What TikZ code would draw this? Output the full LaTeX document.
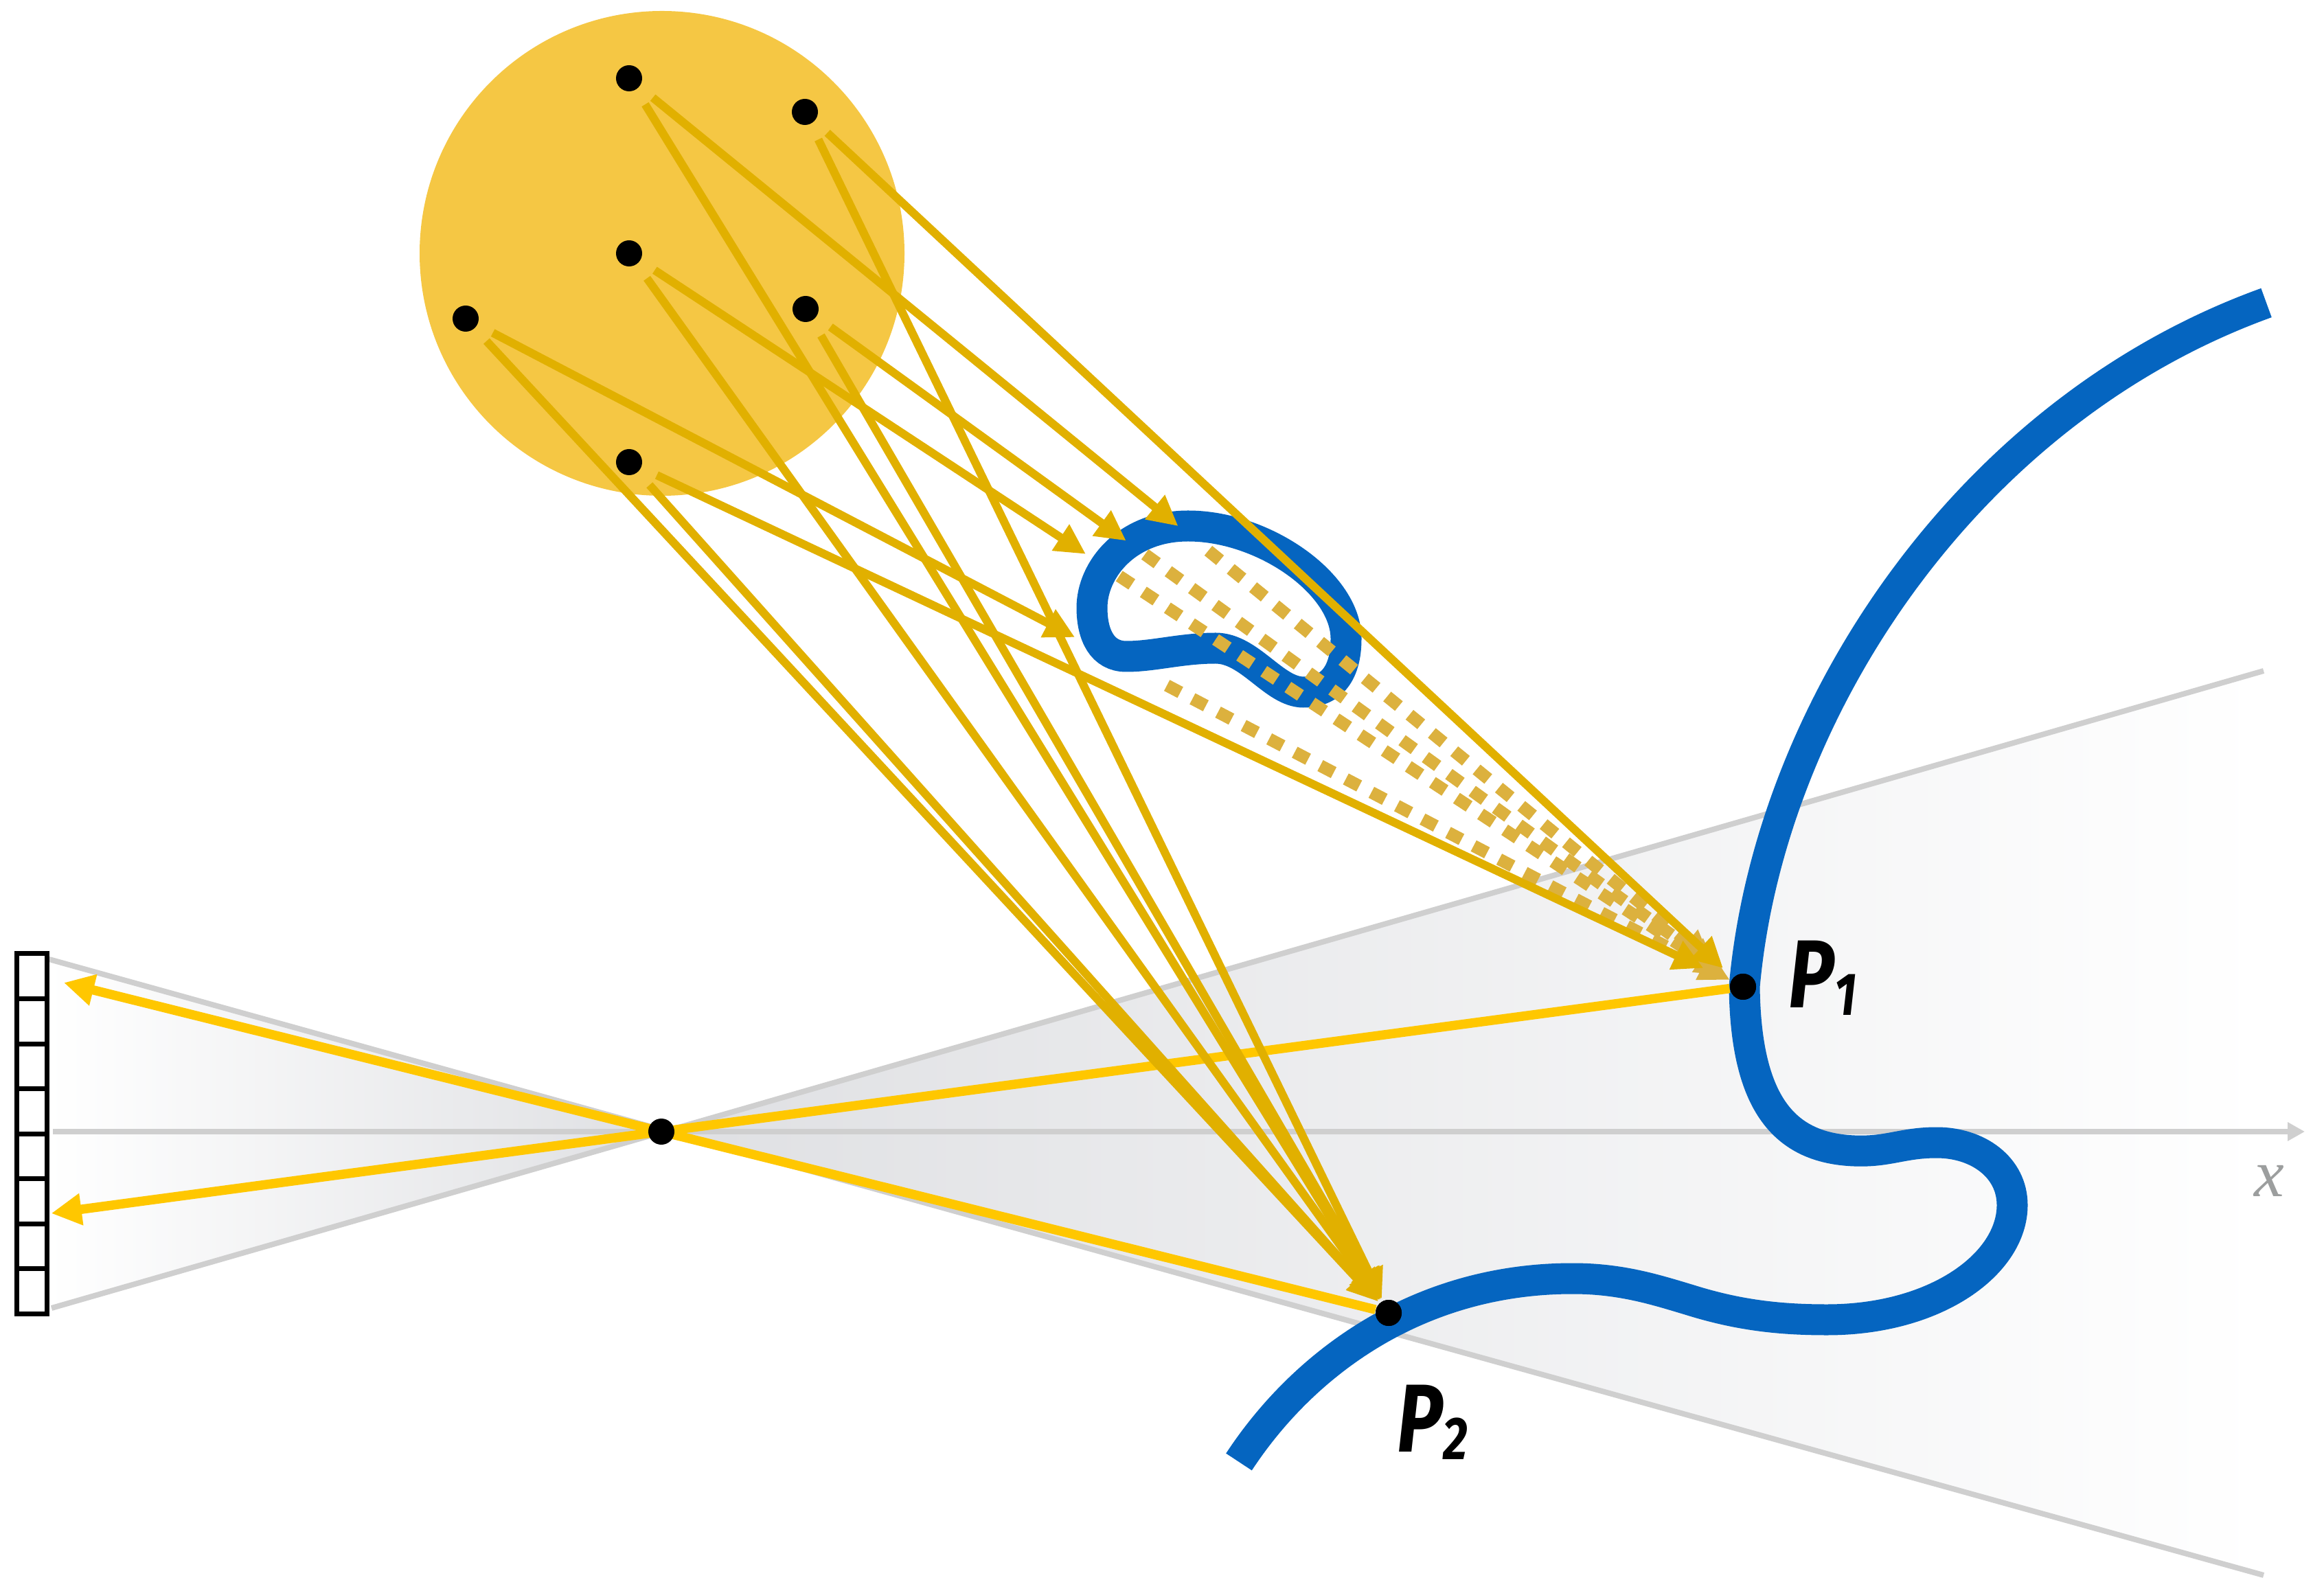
\documentclass[tikz,border=0pt]{standalone}
\usepackage{fontspec}
\newfontfamily\labelfont[FakeStretch=0.8]{Fira Sans}
\newfontfamily\axisfont{Liberation Serif}
\usetikzlibrary{arrows.meta, calc}

\definecolor{sunfill}{HTML}{F5C744}
\definecolor{raygold}{HTML}{E1B000}
\definecolor{hidgold}{HTML}{DCB13E}
\definecolor{pinyellow}{HTML}{FFC700}
\definecolor{surfblue}{HTML}{0565C0}
\definecolor{rimgray}{HTML}{CFCFCF}
\definecolor{conegray}{HTML}{DFE0E3}
\definecolor{axlabel}{HTML}{9C9E9E}

\begin{document}
\begin{tikzpicture}[
  blackdot/.style={circle, fill=black, minimum size=3.8mm, inner sep=0pt},
  sunray/.style={draw=raygold, line width=1.2mm, shorten <=2.5mm, -{Triangle[length=4.4mm, width=4.3mm]}},
  hidray/.style={draw=hidgold, line width=1.8mm, dash pattern=on 2.2mm off 2.0mm, -{Triangle[length=4.4mm, width=4.3mm]}},
  pinray/.style={draw=pinyellow, line width=1.35mm, -{Triangle[length=4.4mm, width=4.4mm]}},
  rim/.style={draw=rimgray, line width=0.8mm},
  surf/.style={draw=surfblue, line width=4.5mm},
  cell/.style={draw=black, line width=0.7mm},
  plabel/.style={font=\labelfont\bfseries\itshape\fontsize{40}{42}\selectfont, inner sep=0pt, anchor=base west}
]
  \useasboundingbox (0,0) rectangle (33.84,23);

  % viewing cone through the pinhole
  \coordinate (pin) at (9.63,6.52);
  \coordinate (wUL) at (0.68,9.04);  \coordinate (wLL) at (0.75,3.95);
  \coordinate (wUR) at (32.96,13.23); \coordinate (wLR) at (32.96,0.06);
  \shade[left color=white, right color=conegray] (wUL) -- (pin) -- (wLL) -- cycle;
  \shade[left color=conegray, right color=white] (pin) -- (wUR) -- (wLR) -- cycle;
  \draw[rim] (wUL) -- (wLR);
  \draw[rim] (wLL) -- (wUR);
  \coordinate (axL) at (0.77,6.52); \coordinate (axR) at (33.56,6.52);
  \draw[rim, -{Triangle[length=2.5mm, width=2.6mm]}] (axL) -- (axR);
  \node[text=axlabel, font=\axisfont\itshape\fontsize{28}{28}\selectfont, inner sep=0pt] (xlab) at (33.04,5.80) {x};

  % sensor
  \draw[cell] (0.245,3.87) rectangle (0.685,9.11);
  \draw[cell] (0.245,4.525) -- (0.685,4.525); \draw[cell] (0.245,5.18) -- (0.685,5.18);
  \draw[cell] (0.245,5.835) -- (0.685,5.835); \draw[cell] (0.245,6.49) -- (0.685,6.49);
  \draw[cell] (0.245,7.145) -- (0.685,7.145); \draw[cell] (0.245,7.80) -- (0.685,7.80);
  \draw[cell] (0.245,8.455) -- (0.685,8.455);

  % light source
  \fill[sunfill] (9.64,19.31) circle (3.53);

  % occluder
  \draw[surf] (15.90,14.15) .. controls (15.90,14.70) and (16.40,15.34) .. (17.30,15.34)
    .. controls (18.40,15.34) and (19.60,14.50) .. (19.60,13.70)
    .. controls (19.60,13.15) and (19.35,12.92) .. (18.98,12.92)
    .. controls (18.55,12.92) and (18.20,13.56) .. (17.70,13.56)
    .. controls (17.20,13.56) and (16.80,13.44) .. (16.40,13.44)
    .. controls (16.05,13.44) and (15.90,13.75) .. (15.90,14.15) -- cycle;
  % surface
  \draw[surf] (18.04,1.71) .. controls (18.95,3.10) and (20.60,4.38) .. (22.90,4.38)
    .. controls (23.60,4.38) and (24.10,4.22) .. (24.60,4.07)
    .. controls (25.30,3.85) and (25.90,3.78) .. (26.60,3.78)
    .. controls (28.20,3.78) and (29.30,4.60) .. (29.30,5.45)
    .. controls (29.30,6.00) and (28.80,6.36) .. (28.20,6.36)
    .. controls (27.70,6.36) and (27.50,6.22) .. (27.00,6.24)
    .. controls (26.00,6.28) and (25.42,6.90) .. (25.40,8.63)
    .. controls (25.75,12.6) and (28.6,17.0) .. (33.00,18.59);

  % points
  \node[blackdot] (A) at (9.16,21.86) {};
  \node[blackdot] (B) at (11.72,21.37) {};
  \node[blackdot] (C) at (9.16,19.31) {};
  \node[blackdot] (D) at (6.78,18.36) {};
  \node[blackdot] (E) at (11.73,18.50) {};
  \node[blackdot] (F) at (9.16,16.27) {};
  \node[blackdot] (P1) at (25.38,8.63) {};
  \node[blackdot] (P2) at (20.22,3.88) {};

  % rays into the pinhole
  \coordinate (H1) at ($(P1)!1.564!(pin)$);
  \coordinate (H2) at ($(P2)!1.8215!(pin)$);
  \draw[pinray] (P1) -- (H1);
  \draw[pinray] (P2) -- (H2);

  % rays blocked by the occluder, and where they would go
  \coordinate (TA) at ($(A)!0.493!(P1)$); \coordinate (SA) at ($(A)!0.52!(P1)$);
  \coordinate (TE) at ($(E)!0.342!(P1)$); \coordinate (SE) at ($(E)!0.362!(P1)$);
  \coordinate (TC) at ($(C)!0.41!(P1)$);  \coordinate (SC) at ($(C)!0.44!(P1)$);
  \coordinate (TD) at ($(D)!0.477!(P1)$); \coordinate (SD) at ($(D)!0.549!(P1)$);
  \draw[hidray, shorten >=4mm] (SA) -- (P1);
  \draw[hidray, shorten >=2.5mm] (SE) -- (P1);
  \draw[hidray, shorten >=1mm] (SC) -- (P1);
  \draw[hidray, shorten >=0.2mm] (SD) -- (P1);
  \draw[sunray] (A) -- (TA); \draw[sunray] (E) -- (TE);
  \draw[sunray] (C) -- (TC); \draw[sunray] (D) -- (TD);

  % rays reaching P1
  \draw[sunray, shorten >=2mm] (B) -- (P1);
  \draw[sunray, shorten >=4.4mm] (F) -- (P1);

  % rays reaching P2
  \draw[sunray, shorten >=0.3mm] (A) -- (P2); \draw[sunray, shorten >=0.3mm] (B) -- (P2);
  \draw[sunray, shorten >=0.3mm] (C) -- (P2); \draw[sunray, shorten >=0.3mm] (D) -- (P2);
  \draw[sunray, shorten >=0.3mm] (E) -- (P2); \draw[sunray, shorten >=0.3mm] (F) -- (P2);

  \node[blackdot] (pinhole) at (pin) {};
  \node[blackdot] at (P1) {};
  \node[blackdot] at (P2) {};

  \node[plabel] (P1lab) at (26.04,8.32) {P\raisebox{-0.11cm}{\fontsize{25}{25}\selectfont 1}};
  \node[plabel] (P2lab) at (20.34,1.86) {P\raisebox{-0.11cm}{\fontsize{25}{25}\selectfont 2}};
\end{tikzpicture}
\end{document}
